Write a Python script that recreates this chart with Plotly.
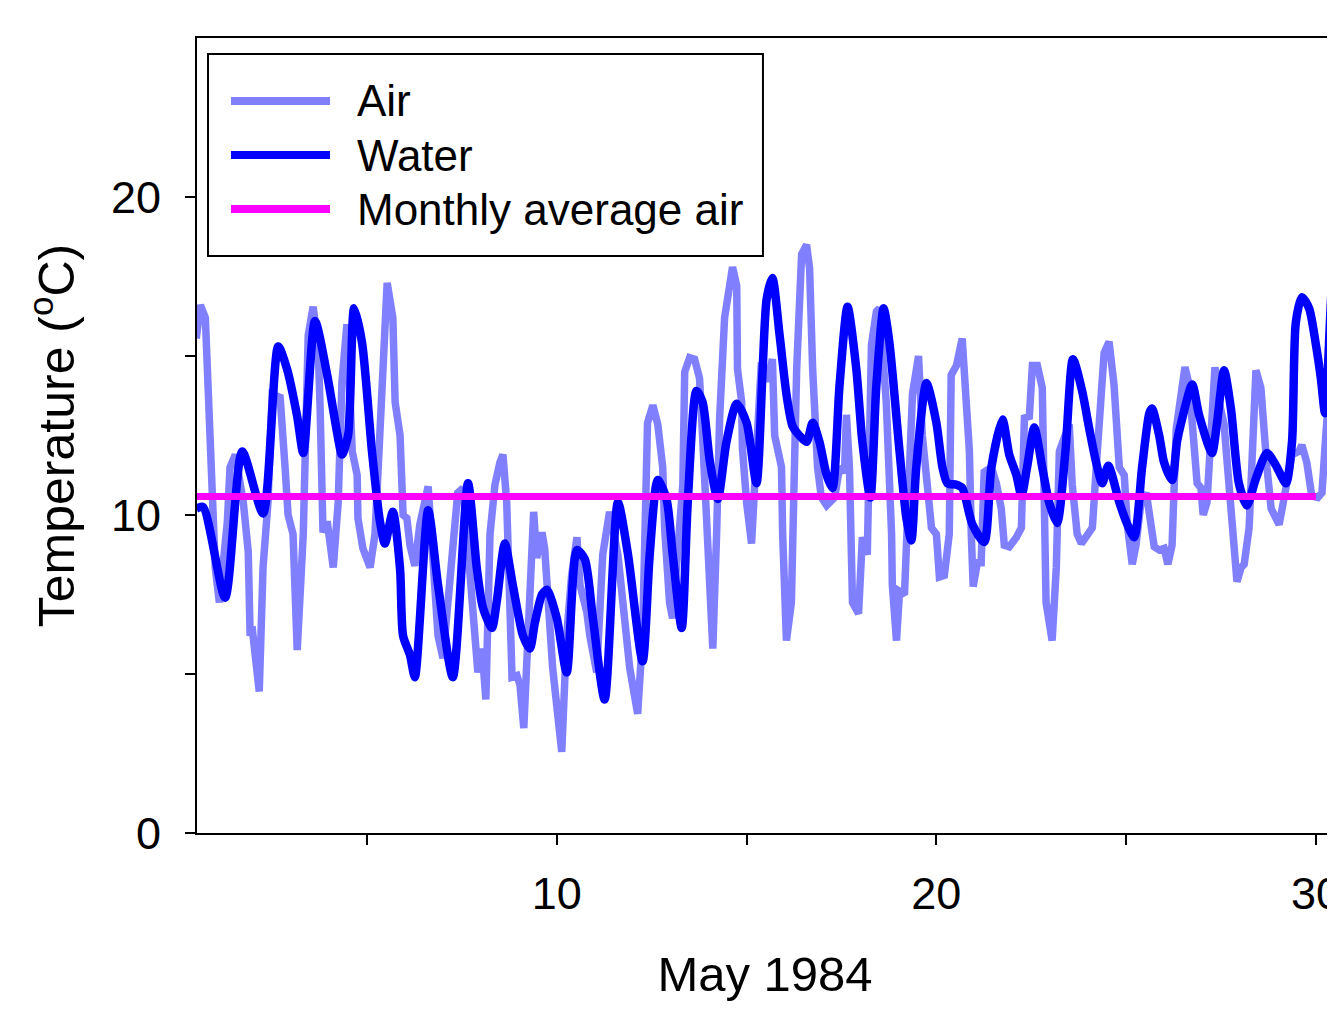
import plotly.graph_objects as go

# ---------------- data ----------------
air_day = [0.5, 0.61, 0.74, 0.82, 0.92, 1.0, 1.11, 1.21, 1.32, 1.39, 1.53, 1.74, 1.87, 1.92, 1.97, 2.08, 2.16,
           2.26, 2.39, 2.50, 2.71, 2.84, 2.92, 3.05, 3.16, 3.32, 3.45, 3.58, 3.71, 3.76, 3.82, 3.84, 3.95,
           4.11, 4.24, 4.34, 4.47, 4.61, 4.74, 4.76, 4.89, 5.08, 5.21, 5.39, 5.53, 5.68, 5.74, 5.87, 5.95,
           6.05, 6.13, 6.26, 6.39, 6.61, 6.74, 6.87, 7.0, 7.18, 7.39, 7.53, 7.71, 7.84, 7.92, 8.03, 8.13,
           8.24, 8.37, 8.5, 8.58, 8.68, 8.76, 8.82, 8.95, 9.03, 9.13, 9.24, 9.29, 9.39, 9.47, 9.61, 9.68,
           9.82, 9.89, 10.13, 10.26, 10.39, 10.53, 10.61, 10.79, 10.87, 11.05, 11.21, 11.39, 11.61, 11.74,
           11.92, 12.13, 12.26, 12.39, 12.53, 12.66, 12.79, 12.84, 12.97, 13.05, 13.32, 13.37, 13.5, 13.63,
           13.76, 13.84, 13.95, 14.03, 14.11, 14.21, 14.29, 14.42, 14.63, 14.74, 14.76, 14.87, 14.89, 15.0,
           15.13, 15.21, 15.39, 15.55, 15.68, 15.74, 15.92, 15.95, 16.05, 16.18, 16.32, 16.45, 16.58, 16.66,
           16.74, 16.87, 16.97, 17.11, 17.32, 17.45, 17.58, 17.63, 17.71, 17.79, 17.95, 18.05, 18.18, 18.29,
           18.42, 18.5, 18.68, 18.82, 18.84, 18.95, 19.03, 19.16, 19.29, 19.37, 19.53, 19.63, 19.76, 19.87,
           20.0, 20.08, 20.21, 20.34, 20.39, 20.53, 20.68, 20.79, 20.87, 20.92, 20.97, 21.08, 21.18, 21.26,
           21.45, 21.58, 21.71, 21.79, 21.92, 22.11, 22.24, 22.32, 22.45, 22.53, 22.66, 22.79, 22.84, 22.89,
           23.05, 23.16, 23.24, 23.37, 23.5, 23.58, 23.71, 23.82, 24.03, 24.11, 24.24, 24.34, 24.42, 24.55,
           24.68, 24.82, 24.95, 25.03, 25.16, 25.26, 25.39, 25.53, 25.66, 25.74, 25.87, 26.0, 26.1, 26.21,
           26.32, 26.45, 26.55, 26.66, 26.79, 26.87, 26.97, 27.03, 27.13, 27.24, 27.34, 27.45, 27.58, 27.71,
           27.84, 27.92, 28.03, 28.11, 28.24, 28.32, 28.42, 28.55, 28.63, 28.71, 28.82, 28.89, 29.03, 29.11,
           29.24, 29.37, 29.55, 29.63, 29.76, 29.89, 30.05, 30.16, 30.26, 30.39]
air_temp = [15.55, 16.6, 16.2, 13.55, 10.4, 8.35, 7.25, 8.35, 9.8, 11.5, 11.9, 10.4, 8.85, 6.2, 6.5, 5.3, 4.45,
            8.35, 10.4, 13.8, 13.7, 11.5, 10.0, 9.4, 5.75, 9.4, 15.65, 16.55, 15.35, 13.55, 11.0, 9.45, 9.8,
            8.35, 10.4, 14.2, 16.0, 12.0, 11.25, 9.9, 8.95, 8.35, 9.4, 13.55, 17.3, 16.2, 13.55, 12.5, 10.0,
            9.9, 9.05, 8.4, 9.7, 10.9, 8.35, 6.2, 5.5, 8.0, 10.7, 10.85, 8.35, 6.2, 5.05, 5.8, 4.2,
            9.4, 10.95, 11.65, 11.9, 10.4, 7.25, 4.9, 4.95, 4.65, 3.3, 6.2, 8.5, 10.1, 8.65, 9.45, 8.95,
            6.75, 5.2, 2.55, 6.2, 8.1, 9.3, 7.8, 6.95, 6.2, 5.05, 8.75, 10.1, 8.75, 7.25,
            5.2, 3.75, 6.2, 12.9, 13.45, 12.85, 11.5, 9.6, 7.25, 6.75, 10.95, 14.5, 14.95, 14.9,
            14.3, 12.5, 9.9, 8.35, 5.8, 9.4, 13.05, 16.2, 17.8, 17.2, 14.6, 13.55, 12.1, 10.4,
            9.1, 10.85, 14.8, 14.2, 14.9, 12.5, 11.5, 9.4, 6.05, 7.25, 14.6, 18.2, 18.5, 17.75,
            14.6, 11.5, 10.55, 10.3, 10.55, 11.5, 11.35, 13.15, 11.5, 7.25, 6.9, 9.3, 8.75, 15.35,
            16.4, 16.5, 13.55, 9.4, 7.8, 6.05, 7.6, 7.5, 11.5, 13.8, 15.0, 12.5, 10.95, 9.6,
            9.4, 8.05, 8.1, 9.4, 14.4, 14.7, 15.55, 13.55, 12.0, 9.4, 7.75, 8.5, 8.5, 11.35,
            11.5, 11.0, 10.2, 9.05, 9.0, 9.3, 9.6, 13.05, 13.1, 14.7, 14.7, 14.0, 10.4, 7.25,
            6.05, 8.35, 12.0, 12.5, 12.85, 10.95, 9.4, 9.1, 9.45, 9.6, 12.0, 13.9, 15.1, 15.45,
            14.1, 11.5, 11.25, 9.7, 8.45, 9.05, 10.4, 10.7, 9.6, 9.0, 8.9, 8.95, 8.45, 9.05,
            12.7, 14.0, 14.65, 14.1, 12.0, 11.0, 10.85, 10.0, 10.4, 12.5, 14.65, 13.55, 12.85, 10.95,
            9.4, 7.9, 8.35, 8.45, 9.6, 12.5, 14.55, 14.0, 12.5, 11.5, 10.2, 10.0, 9.7, 10.2,
            11.25, 11.9, 12.0, 12.2, 11.65, 10.6, 10.55, 10.7, 12.5, 14.6]

water_day = [0.5, 0.68, 1.26, 1.71, 2.26, 2.66, 2.89, 3.16, 3.32, 3.63, 3.95, 4.21, 4.34, 4.50, 4.66, 4.87,
             5.13, 5.34, 5.47, 5.68, 5.87, 5.95, 6.13, 6.26, 6.61, 6.87, 7.26, 7.66, 7.89, 8.05, 8.29, 8.42,
             8.63, 8.84, 9.11, 9.29, 9.42, 9.61, 9.74, 10.0, 10.26, 10.53, 10.74, 10.95, 11.26, 11.61, 11.87,
             12.26, 12.45, 12.66, 12.89, 13.05, 13.29, 13.45, 13.68, 13.84, 14.03, 14.24, 14.47, 14.74, 15.0,
             15.26, 15.42, 15.53, 15.68, 15.87, 16.05, 16.21, 16.39, 16.58, 16.74, 16.92, 17.11, 17.26, 17.45,
             17.66, 17.89, 18.05, 18.26, 18.42, 18.61, 18.76, 19.03, 19.21, 19.34, 19.47, 19.74, 20.0, 20.16,
             20.29, 20.53, 20.68, 20.95, 21.26, 21.45, 21.74, 21.92, 22.11, 22.24, 22.39, 22.58, 22.79, 22.97,
             23.18, 23.4, 23.6, 23.84, 24.03, 24.21, 24.37, 24.53, 24.82, 25.0, 25.21, 25.42, 25.61, 25.68,
             25.87, 26.0, 26.21, 26.34, 26.45, 26.74, 26.92, 27.26, 27.39, 27.58, 27.76, 27.97, 28.18, 28.42,
             28.71, 28.95, 29.21, 29.37, 29.47, 29.63, 29.82, 30.0, 30.13, 30.24, 30.42, 30.55]
water_temp = [10.2, 10.25, 7.4, 12.0, 10.05, 15.3, 14.6, 13.1, 11.95, 16.1, 14.4, 12.6, 11.9, 12.5, 16.5, 15.4,
              12.0, 9.8, 9.1, 10.1, 8.3, 6.2, 5.6, 4.9, 10.15, 7.8, 4.9, 11.0, 8.35, 7.1, 6.45, 7.3,
              9.1, 7.8, 6.2, 5.8, 6.6, 7.5, 7.65, 6.75, 5.05, 8.9, 8.6, 6.75, 4.2, 10.4, 8.8,
              5.4, 8.8, 11.1, 10.5, 8.8, 6.45, 10.4, 13.9, 13.55, 11.7, 10.5, 12.3, 13.5, 12.9,
              11.0, 14.5, 16.8, 17.45, 15.65, 13.8, 12.8, 12.5, 12.3, 12.9, 12.3, 11.25, 10.85, 14.1,
              16.55, 14.6, 12.3, 10.55, 14.1, 16.5, 15.45, 12.0, 9.9, 9.2, 11.5, 14.15, 12.9, 11.5,
              11.0, 10.95, 10.85, 9.7, 9.15, 11.5, 13.0, 11.9, 11.25, 10.6, 11.5, 12.75, 11.5, 10.4,
              9.75, 12.0, 14.9, 13.9, 12.7, 11.65, 11.0, 11.55, 10.4, 9.8, 9.3, 11.5, 13.2, 13.35,
              12.5, 11.65, 11.1, 12.3, 12.9, 14.1, 13.15, 11.95, 12.85, 14.55, 13.35, 11.0, 10.3, 11.15,
              11.95, 11.55, 11.0, 12.3, 16.05, 16.85, 16.5, 15.35, 14.3, 13.2, 17.2, 18.5]

avg_day = [0.5, 30.0]
avg_air = 10.58

x_tickvals = [5, 10, 15, 20, 25, 30]
x_ticktext = ["", "10", "", "20", "", "30"]
y_tickvals = [0, 5, 10, 15, 20]
y_ticktext = ["0", "", "10", "", "20"]

series_names = ["Air", "Water", "Monthly average air"]
series_colors = ["#8080ff", "#0000ff", "#ff00ff"]

FONT = "Liberation Sans, Arial, sans-serif"

fig = go.Figure()
fig.add_trace(go.Scatter(x=air_day, y=air_temp, mode="lines", name=series_names[0], showlegend=False,
                         line=dict(color=series_colors[0], width=7.5)))
fig.add_trace(go.Scatter(x=water_day, y=water_temp, mode="lines", name=series_names[1], showlegend=False,
                         line=dict(color=series_colors[1], width=8.5, shape="spline", smoothing=0.7)))
fig.add_trace(go.Scatter(x=avg_day, y=[avg_air] * len(avg_day), mode="lines", name=series_names[2],
                         showlegend=False, line=dict(color=series_colors[2], width=7)))

# ---- legend (box, sample lines, labels) in paper coordinates ----
shapes = [dict(type="rect", xref="paper", yref="paper", x0=0.0097, x1=0.4982, y0=0.7258, y1=0.9799,
               line=dict(color="black", width=2), fillcolor="rgba(0,0,0,0)", layer="above")]
annotations = []
legend_rows_y = [0.9208, 0.8528, 0.7849]
for name, color, yy in zip(series_names, series_colors, legend_rows_y):
    shapes.append(dict(type="line", xref="paper", yref="paper", x0=0.0299, x1=0.1171, y0=yy, y1=yy,
                       line=dict(color=color, width=8), layer="above"))
    annotations.append(dict(text=name, xref="paper", yref="paper", x=0.1395, y=yy, xanchor="left",
                            yanchor="middle", showarrow=False, font=dict(size=44, family=FONT, color="black")))

fig.update_layout(
    width=1327, height=993,
    margin=dict(l=189, r=2, t=30, b=168, autoexpand=False),
    paper_bgcolor="white", plot_bgcolor="white",
    font=dict(family=FONT, color="black", size=45),
    showlegend=False,
    shapes=shapes, annotations=annotations,
    xaxis=dict(range=[0.52, 30.45], tickvals=x_tickvals, ticktext=x_ticktext,
               ticks="outside", ticklen=10, tickwidth=2, tickcolor="black",
               showline=True, linecolor="black", linewidth=2, mirror=True,
               showgrid=False, zeroline=False, ticklabelstandoff=10, ticklabeloverflow="allow",
               automargin=False, tickfont=dict(size=45),
               title=dict(text="May 1984", font=dict(size=49), standoff=54)),
    yaxis=dict(range=[0, 25], tickvals=y_tickvals, ticktext=y_ticktext,
               ticks="outside", ticklen=10, tickwidth=2, tickcolor="black",
               showline=True, linecolor="black", linewidth=2, mirror=True,
               showgrid=False, zeroline=False, ticklabelstandoff=15,
               automargin=False, tickfont=dict(size=45),
               title=dict(text="Temperature (<sup>o</sup>C)", font=dict(size=50), standoff=20)),
)

fig.write_html("out.html")
